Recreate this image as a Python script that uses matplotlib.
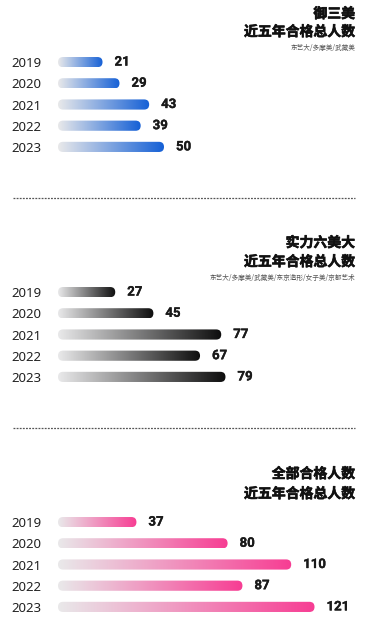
import matplotlib.pyplot as plt
import numpy as np
from matplotlib.patches import FancyBboxPatch
from matplotlib.colors import LinearSegmentedColormap
from matplotlib.lines import Line2D
import matplotlib.patheffects as pe

years = ["2019", "2020", "2021", "2022", "2023"]
vals_top3 = [21, 29, 43, 39, 50]
vals_top6 = [27, 45, 77, 67, 79]
vals_all = [37, 80, 110, 87, 121]

titles = ["御三美", "实力六美大", "全部合格人数"]
subtitle2 = "近五年合格总人数"
notes = ["东艺大/多摩美/武藏美", "东艺大/多摩美/武藏美/东京造形/女子美/京都艺术", ""]
end_colors = ["#1560d6", "#0d0d0d", "#f73d93"]

CJK = ["Noto Sans CJK SC", "DejaVu Sans"]
W, H = 377, 633
fig = plt.figure(figsize=(W / 100, H / 100), dpi=100)

px_per_unit = 2.12
ax_left, ax_w = 58, 300
row_h = 21.2
bar_h = 0.48
# top of each axes (px) and title positions (px)
ax_tops = [51.5, 281.5, 511.5]
title_y = [(14, 32, 48), (243, 262, 278), (474, 494, None)]
bold_fx = [pe.withStroke(linewidth=0.45, foreground="#111111")]

def draw_bars(ax, vals, color):
    cmap = LinearSegmentedColormap.from_list("g", ["#e9e9ea", color])
    grad = np.linspace(0, 1, 256).reshape(1, -1)
    aspect = px_per_unit / row_h
    r = (bar_h / 2) / aspect
    for i, v in enumerate(vals):
        patch = FancyBboxPatch((0, i - bar_h / 2), v, bar_h,
                               boxstyle=f"round,pad=0,rounding_size={r}",
                               mutation_aspect=aspect, fc="none", ec="none")
        ax.add_patch(patch)
        im = ax.imshow(grad, cmap=cmap, aspect="auto",
                       extent=(0, v, i + bar_h / 2, i - bar_h / 2),
                       interpolation="bicubic")
        im.set_clip_path(patch)
        ax.text(v + 12 / px_per_unit, i, str(v), va="center", ha="left",
                fontsize=9.5, fontweight="bold", color="#1a1a1a",
                family="Roboto",
                path_effects=[pe.withStroke(linewidth=0.25, foreground="#1a1a1a")])

for k, vals in enumerate([vals_top3, vals_top6, vals_all]):
    top = ax_tops[k]
    ax = fig.add_axes([ax_left / W, 1 - (top + 5 * row_h) / H, ax_w / W, 5 * row_h / H])
    ax.set_xlim(0, ax_w / px_per_unit)
    ax.set_ylim(4.5, -0.5)
    draw_bars(ax, vals, end_colors[k])
    ax.set_yticks(range(5))
    ax.set_yticklabels(years, fontsize=9.5, color="#222222", family="Noto Sans")
    ax.tick_params(axis="y", length=0, pad=12)
    ax.set_xticks([])
    for s in ax.spines.values():
        s.set_visible(False)
    ax.patch.set_alpha(0)

    ty = title_y[k]
    fig.text(355 / W, 1 - ty[0] / H, titles[k], ha="right", va="center",
             fontsize=10, fontweight="bold", family=CJK, color="#111111",
             path_effects=bold_fx)
    fig.text(355 / W, 1 - ty[1] / H, subtitle2, ha="right", va="center",
             fontsize=10, fontweight="bold", family=CJK, color="#111111",
             path_effects=bold_fx)
    if ty[2] is not None:
        fig.text(355 / W, 1 - ty[2] / H, notes[k], ha="right", va="center",
                 fontsize=4.8, family=CJK, color="#555555")

for yy in [198, 428]:
    fig.add_artist(Line2D([13 / W, 355 / W], [1 - yy / H, 1 - yy / H],
                          transform=fig.transFigure, color="#555555",
                          lw=0.9, linestyle=(0, (1.5, 1))))

fig.savefig("out.png", dpi=100, facecolor="white")
